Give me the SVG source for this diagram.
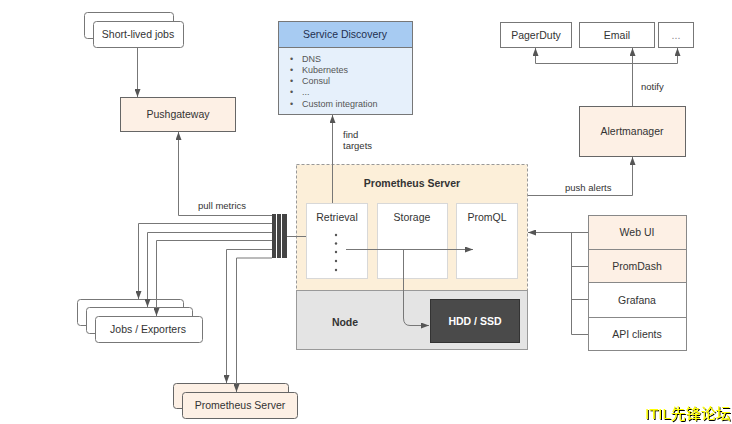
<svg xmlns="http://www.w3.org/2000/svg" width="732" height="424" viewBox="0 0 732 424">
<style>
text{font-family:"Liberation Sans",Arial,sans-serif;fill:#333;}
.t{font-size:10.5px;text-anchor:middle;}
.b{font-weight:bold;}
.lbl{font-size:9.5px;}
.sd{font-size:9px;fill:#555;}
.box{fill:#fff;stroke:#777;stroke-width:1;}
.peach{fill:#fdf0e5;stroke:#666;stroke-width:1;}
.inner{fill:#fff;stroke:#d8d8d8;stroke-width:1;}
.ln{fill:none;stroke:#777;stroke-width:1;}
.la{fill:none;stroke:#777;stroke-width:1;marker-end:url(#arr);}
</style>
<defs>
<marker id="arr" markerUnits="userSpaceOnUse" markerWidth="8" markerHeight="6" refX="8" refY="3" orient="auto">
<path d="M0,0 L8,3 L0,6 z" fill="#555"/>
</marker>
<filter id="sh" x="-5%" y="-20%" width="110%" height="140%">
<feDropShadow dx="1" dy="1" stdDeviation="0" flood-color="#000"/>
</filter>
</defs>
<rect width="732" height="424" fill="#fff"/>

<g id="prometheus-server">
<rect x="296.5" y="164.5" width="231" height="126" fill="#fcefd9" stroke="#999" stroke-dasharray="3 2"/>
<text class="t b" x="412" y="187">Prometheus Server</text>
</g>
<g id="node">
<rect x="296.5" y="290.5" width="231" height="59" fill="#e4e4e4" stroke="#999"/>
<text class="t b" x="345" y="326">Node</text>
</g>
<g id="retrieval">
<rect class="inner" x="306.5" y="203.5" width="61" height="75"/>
<text class="t" x="337" y="221">Retrieval</text>
<g fill="#555">
<circle cx="336" cy="235" r="1.2"/><circle cx="336" cy="243.5" r="1.2"/><circle cx="336" cy="252" r="1.2"/><circle cx="336" cy="261" r="1.2"/><circle cx="336" cy="270" r="1.2"/>
</g>
</g>
<g id="storage">
<rect class="inner" x="377.5" y="203.5" width="70" height="75"/>
<text class="t" x="412" y="221">Storage</text>
</g>
<g id="promql">
<rect class="inner" x="456.5" y="203.5" width="61" height="75"/>
<text class="t" x="487" y="221">PromQL</text>
</g>
<g id="hdd">
<rect x="430.5" y="299.5" width="89" height="43" fill="#4a4a4a" stroke="#333"/>
<text class="t b" x="475" y="325" style="fill:#fff">HDD / SSD</text>
</g>

<g id="short-lived-jobs">
<rect class="box" x="84.5" y="12.5" width="89" height="26" rx="3"/>
<rect class="box" x="93.5" y="21.5" width="90" height="26" rx="3"/>
<text class="t" x="138" y="38">Short-lived jobs</text>
</g>
<g id="pushgateway">
<rect class="peach" x="120.5" y="97.5" width="115" height="34"/>
<text class="t" x="178" y="118">Pushgateway</text>
</g>
<g id="service-discovery">
<rect x="278.5" y="21.5" width="134" height="93" fill="#e6f0fb" stroke="#777"/>
<rect x="278.5" y="21.5" width="134" height="26" fill="#a7cbf2" stroke="#777"/>
<text class="t" x="345" y="38" style="fill:#1f3050">Service Discovery</text>
<g class="sd">
<text class="sd" x="290" y="62">•</text><text class="sd" x="302" y="62">DNS</text>
<text class="sd" x="290" y="73">•</text><text class="sd" x="302" y="73">Kubernetes</text>
<text class="sd" x="290" y="84">•</text><text class="sd" x="302" y="84">Consul</text>
<text class="sd" x="290" y="95">•</text><text class="sd" x="302" y="95">...</text>
<text class="sd" x="290" y="107">•</text><text class="sd" x="302" y="107">Custom integration</text>
</g>
</g>
<g id="pagerduty">
<rect class="box" x="500.5" y="22.5" width="71" height="25"/>
<text class="t" x="536" y="39">PagerDuty</text>
</g>
<g id="email">
<rect class="box" x="579.5" y="22.5" width="75" height="25"/>
<text class="t" x="617" y="39">Email</text>
</g>
<g id="more">
<rect class="box" x="658.5" y="22.5" width="35" height="25" stroke="#999"/>
<text class="t" x="676" y="39" style="fill:#888">...</text>
</g>
<g id="alertmanager">
<rect class="peach" x="579.5" y="106.5" width="106" height="50"/>
<text class="t" x="632" y="135">Alertmanager</text>
</g>
<g id="jobs-exporters">
<rect class="box" x="77.5" y="299.5" width="106" height="26" rx="3"/>
<rect class="box" x="86.5" y="307.5" width="106" height="26" rx="3"/>
<rect class="box" x="95.5" y="316.5" width="107" height="26" rx="3"/>
<text class="t" x="148" y="333">Jobs / Exporters</text>
</g>
<g id="prometheus-server-2">
<rect class="peach" x="173.5" y="383.5" width="115" height="25" rx="3"/>
<rect class="peach" x="182.5" y="392.5" width="115" height="26" rx="3"/>
<text class="t" x="240" y="409">Prometheus Server</text>
</g>
<g id="web-ui">
<rect x="588.5" y="215.5" width="98" height="34" fill="#fdf0e5" stroke="#888"/>
<text class="t" x="637" y="236">Web UI</text>
</g>
<g id="promdash">
<rect x="588.5" y="249.5" width="98" height="33" fill="#fdf0e5" stroke="#888"/>
<text class="t" x="637" y="270">PromDash</text>
</g>
<g id="grafana">
<rect x="588.5" y="282.5" width="98" height="35" fill="#fff" stroke="#888"/>
<text class="t" x="637" y="304">Grafana</text>
</g>
<g id="api-clients">
<rect x="588.5" y="317.5" width="98" height="33" fill="#fff" stroke="#888"/>
<text class="t" x="637" y="338">API clients</text>
</g>

<g id="connectors">
<path class="la" d="M137.5,47 V97"/>
<path class="la" d="M332.5,203 V115"/>
<path class="la" d="M346,249.5 H473"/>
<path class="la" d="M403.5,249 V318 Q403.5,325.5 410,325.5 H429"/>
<path class="ln" d="M287,236.5 H306"/>
<g fill="#444">
<rect x="272" y="214" width="4" height="44"/>
<rect x="277" y="214" width="4" height="44"/>
<rect x="282" y="214" width="5" height="44"/>
</g>
<path class="la" d="M272,215.5 H178.5 V132"/>
<path class="la" d="M272,223.5 H138.5 V299"/>
<path class="la" d="M272,232.5 H147.5 V307"/>
<path class="la" d="M272,240.5 H156.5 V316"/>
<path class="la" d="M272,249.5 H226.5 V383"/>
<path class="la" d="M272,258 H236.5 V392"/>
<path class="la" d="M528,195.5 H632.5 V157"/>
<path class="la" d="M632.5,106 V48"/>
<path class="ln" d="M535.5,63.5 H677.5"/>
<path class="la" d="M535.5,63.5 V48"/>
<path class="la" d="M677.5,63.5 V48"/>
<path class="la" d="M588,232.5 H528"/>
<path class="ln" d="M571.5,232.5 V334.5 H588 M571.5,266.5 H588 M571.5,299.5 H588"/>
<text class="lbl" x="198" y="209">pull metrics</text>
<text class="lbl" x="343" y="138">find</text>
<text class="lbl" x="343" y="149">targets</text>
<text class="lbl" x="565" y="191">push alerts</text>
<text class="lbl" x="641" y="90">notify</text>
</g>
<text x="645" y="419" style="font-size:15px;fill:#ffff00;font-family:'Liberation Sans','Noto Sans CJK SC',sans-serif" filter="url(#sh)">ITIL先锋论坛</text>
</svg>
